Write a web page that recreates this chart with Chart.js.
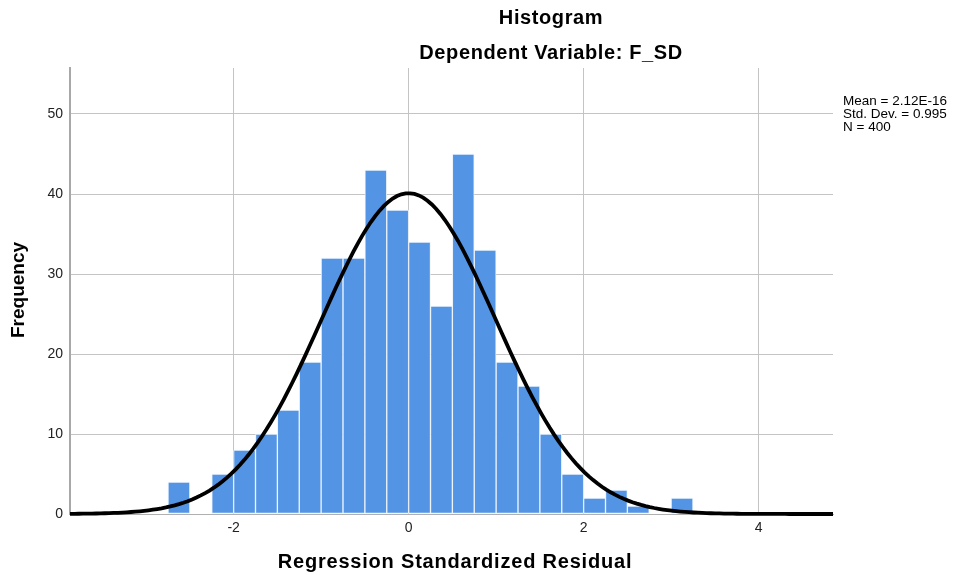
<!DOCTYPE html>
<html>
<head>
<meta charset="utf-8">
<script src="https://cdn.jsdelivr.net/npm/chart.js@4"></script>
<style>
  html, body { margin: 0; padding: 0; background: #ffffff; }
  #wrap { position: relative; width: 956px; height: 575px; }
</style>
</head>
<body>
<div id="wrap"><canvas id="c" width="956" height="575"></canvas></div>
<script>
// ---- data ----
const binCenters = [-2.625, -2.375, -2.125, -1.875, -1.625, -1.375, -1.125, -0.875, -0.625, -0.375, -0.125,
                    0.125, 0.375, 0.625, 0.875, 1.125, 1.375, 1.625, 1.875, 2.125, 2.375, 2.625, 2.875, 3.125];
const frequencies = [4, 0, 5, 8, 10, 13, 19, 32, 32, 43, 38,
                     34, 26, 45, 33, 19, 16, 10, 5, 2, 3, 1, 0, 2];
const binWidth = 0.25;
const xTicks = [-2, 0, 2, 4];
const yTicks = [0, 10, 20, 30, 40, 50];
const MEAN = 2.12e-16, SD = 0.995, N = 400;
const statLines = ['Mean = 2.12E-16', 'Std. Dev. = 0.995', 'N = 400'];
const titleLines = ['Histogram', 'Dependent Variable: F_SD'];
const xTitle = 'Regression Standardized Residual';
const yTitle = 'Frequency';
const X_MIN = -3.87, X_MAX = 4.85, Y_MAX = 55.75;

// normal curve fitted with the displayed Mean / Std. Dev. / N
const curve = [];
for (let i = 0; i <= 175; i++) {
  const x = X_MIN + (X_MAX - X_MIN) * i / 175;
  const z = (x - MEAN) / SD;
  curve.push({ x: x, y: N * binWidth / (SD * Math.sqrt(2 * Math.PI)) * Math.exp(-0.5 * z * z) });
}

const FONT = "'Liberation Sans', Arial, sans-serif";

const textPlugin = {
  id: 'texts',
  afterDraw(chart) {
    const ctx = chart.ctx;
    ctx.save();
    ctx.fillStyle = '#000';
    ctx.textAlign = 'center';
    ctx.textBaseline = 'alphabetic';
    ctx.font = "bold 20px " + FONT;
    ctx.letterSpacing = '0.6px';
    ctx.fillText(titleLines[0], 551, 24);
    ctx.fillText(titleLines[1], 551, 59);
    ctx.letterSpacing = '0.8px';
    ctx.fillText(xTitle, 455, 568);
    ctx.letterSpacing = '0px';
    ctx.font = "bold 19px " + FONT;
    ctx.save();
    ctx.translate(24, 290);
    ctx.rotate(-Math.PI / 2);
    ctx.fillText(yTitle, 0, 0);
    ctx.restore();
    ctx.font = "13.5px " + FONT;
    ctx.textAlign = 'left';
    statLines.forEach((s, i) => ctx.fillText(s, 843, 105 + i * 13));
    ctx.restore();
  }
};

new Chart(document.getElementById('c'), {
  data: {
    datasets: [
      {
        type: 'line',
        data: curve,
        borderColor: '#000000',
        borderWidth: 3.8,
        pointRadius: 0,
        fill: false,
        clip: false,
        order: 0
      },
      {
        type: 'bar',
        data: binCenters.map((c, i) => ({ x: c, y: frequencies[i] })),
        backgroundColor: 'rgb(83,148,228)',
        borderColor: 'rgba(235,243,252,0.9)',
        borderWidth: 1,
        borderSkipped: false,
        barPercentage: 1.0,
        categoryPercentage: 1.0,
        order: 1
      }
    ]
  },
  options: {
    responsive: false,
    animation: false,
    events: [],
    layout: { padding: { left: 0, top: 68, right: 123, bottom: 0 } },
    plugins: { legend: { display: false }, tooltip: { enabled: false }, title: { display: false } },
    scales: {
      x: {
        type: 'linear',
        offset: false,
        min: X_MIN, max: X_MAX,
        afterFit(s) { s.height = 61; },
        afterBuildTicks(s) { s.ticks = xTicks.map(v => ({ value: v })); },
        grid: { color: '#c4c4c4', lineWidth: 1, drawTicks: false, offset: false },
        border: { display: true, color: '#b0b0b0', width: 1 },
        ticks: { color: '#222', font: { family: FONT, size: 14 }, padding: 6,
                 callback: v => String(v) }
      },
      y: {
        min: 0, max: Y_MAX,
        afterFit(s) { s.width = 70; },
        afterBuildTicks(s) { s.ticks = yTicks.map(v => ({ value: v })); },
        grid: { color: '#c4c4c4', lineWidth: 1, drawTicks: false },
        border: { display: true, color: '#a8a8a8', width: 2 },
        ticks: { color: '#222', font: { family: FONT, size: 14 }, padding: 7 }
      }
    }
  },
  plugins: [textPlugin]
});
</script>
</body>
</html>
